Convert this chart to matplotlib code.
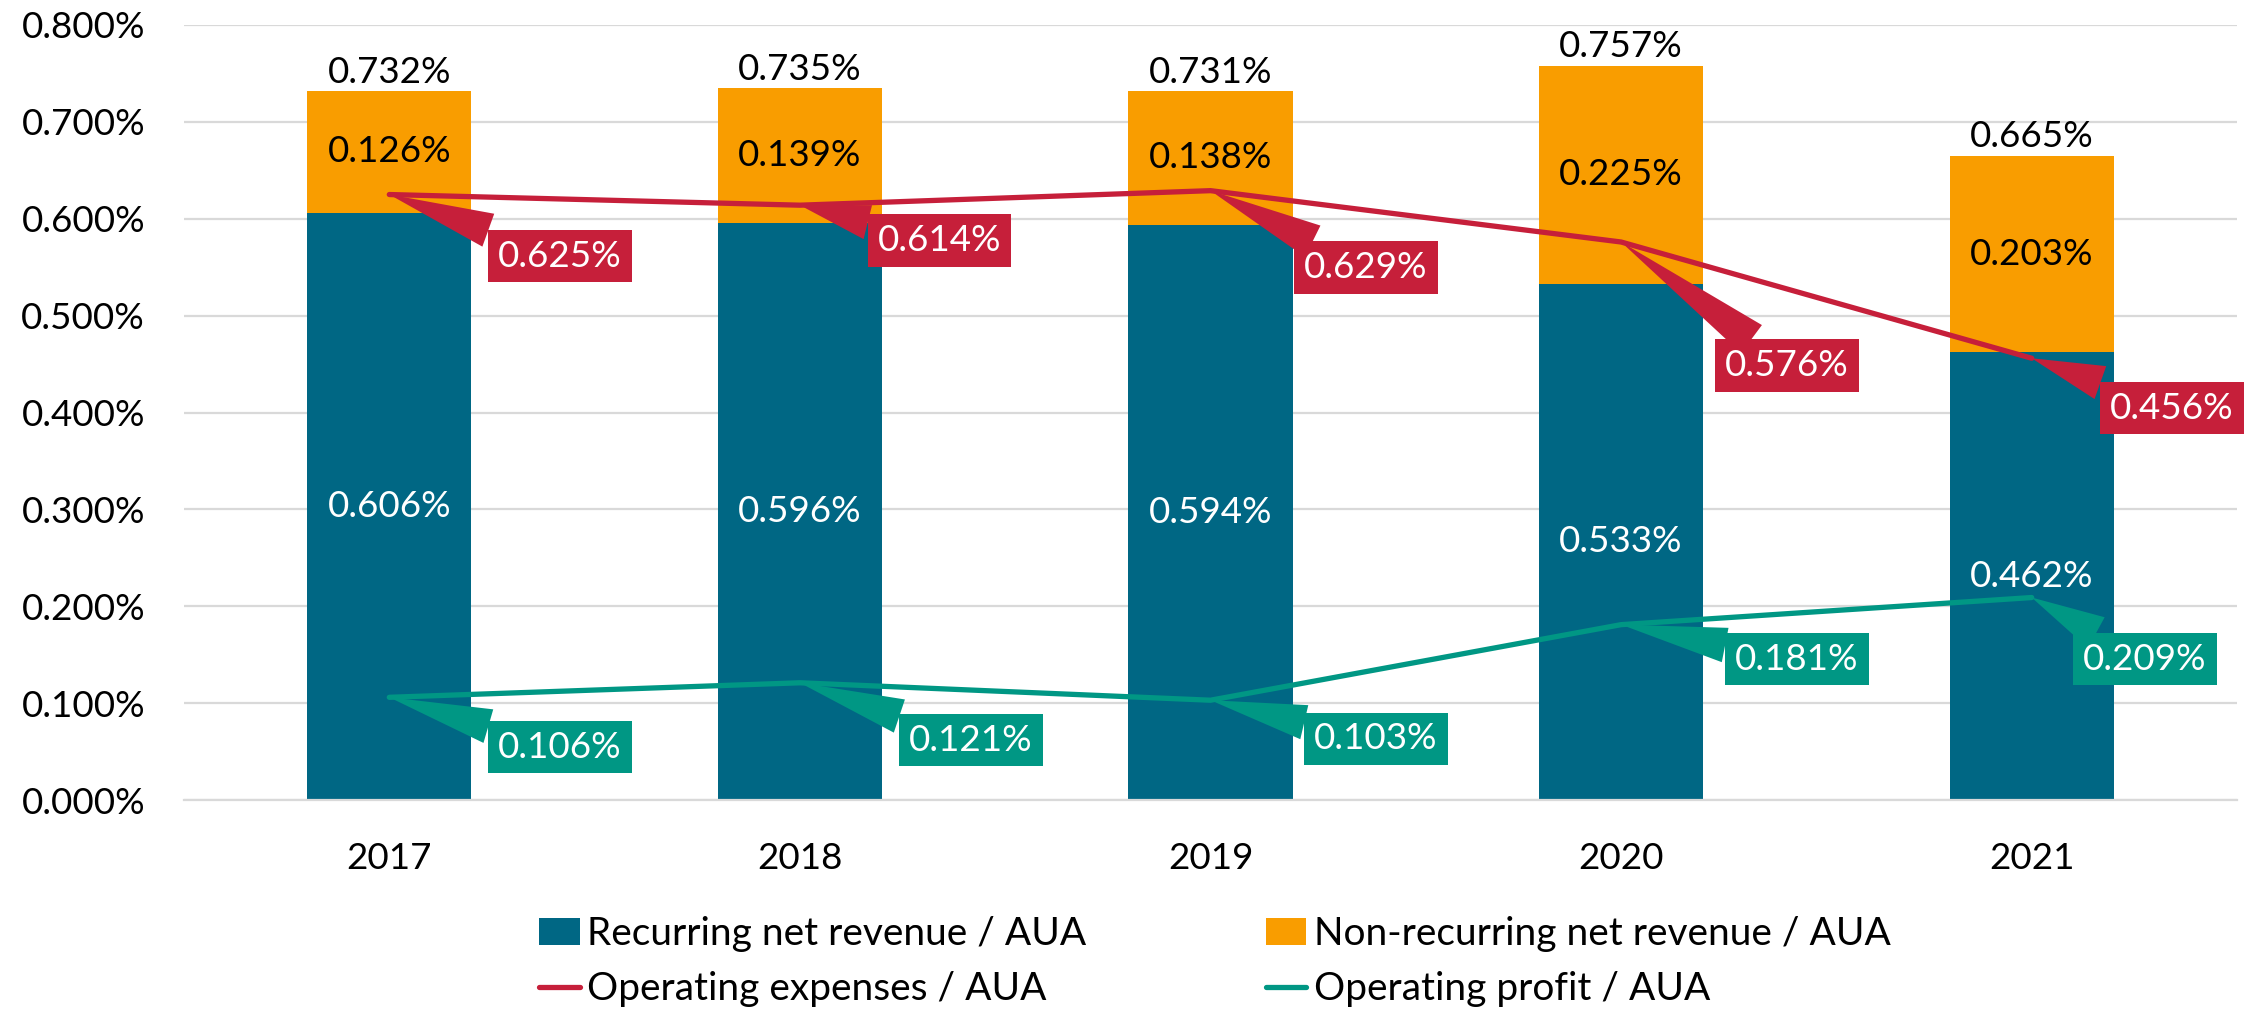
import matplotlib
matplotlib.use("Agg")
import matplotlib.pyplot as plt
from matplotlib.ticker import FixedLocator

# ---- data ----
years = ["2017", "2018", "2019", "2020", "2021"]
recurring = [0.606, 0.596, 0.594, 0.533, 0.462]
non_recurring = [0.126, 0.139, 0.138, 0.225, 0.203]
totals = [0.732, 0.735, 0.731, 0.757, 0.665]
opex = [0.625, 0.614, 0.629, 0.576, 0.456]
profit = [0.106, 0.121, 0.103, 0.181, 0.209]
y_ticks = [0.0, 0.1, 0.2, 0.3, 0.4, 0.5, 0.6, 0.7, 0.8]

# callout box centres (x in category units, y in % units)
opex_box_x = [0.416, 1.340, 2.379, 3.404, 4.342]
opex_box_y = [0.5615, 0.578, 0.5495, 0.4485, 0.4046]
profit_box_x = [0.416, 1.417, 2.403, 3.428, 4.276]
profit_box_y = [0.0547, 0.0619, 0.063, 0.1455, 0.1455]

# ---- style ----
BLUE = "#006784"
ORANGE = "#F99D00"
RED = "#C61F3A"
TEAL = "#009784"
GRID = "#D9D9D9"
FS = 26.5

plt.rcParams["font.family"] = ["Lato", "DejaVu Sans"]

fig = plt.figure(figsize=(22.52, 10.14), dpi=100)
ax = fig.add_axes([184 / 2252, 1 - 800 / 1014, (2237 - 184) / 2252, (800 - 25) / 1014])

x = list(range(len(years)))
b1 = ax.bar(x, recurring, width=0.4, color=BLUE, zorder=2, label="Recurring net revenue / AUA")
b2 = ax.bar(x, non_recurring, width=0.4, bottom=recurring, color=ORANGE, zorder=2,
            label="Non-recurring net revenue / AUA")
l1, = ax.plot(x, opex, color=RED, lw=3.8, zorder=3, solid_joinstyle="round",
              solid_capstyle="round", label="Operating expenses / AUA")
l2, = ax.plot(x, profit, color=TEAL, lw=3.8, zorder=3, solid_joinstyle="round",
              solid_capstyle="round", label="Operating profit / AUA")

# segment labels
for i in x:
    ax.text(i, recurring[i] / 2, f"{recurring[i]:.3f}%", ha="center", va="center",
            color="white", fontsize=FS, zorder=4)
    ax.text(i, recurring[i] + non_recurring[i] / 2, f"{non_recurring[i]:.3f}%", ha="center",
            va="center", color="black", fontsize=FS, zorder=4)
    ax.annotate(f"{totals[i]:.3f}%", xy=(i, recurring[i] + non_recurring[i]),
                xytext=(0, 6), textcoords="offset points", ha="center", va="baseline",
                color="black", fontsize=FS, zorder=4)

# callouts
def callout(i, val, bx, by, col):
    ax.annotate(f"{val:.3f}%", xy=(i, val), xytext=(bx, by), textcoords="data",
                ha="center", va="center", color="white", fontsize=FS, zorder=6,
                bbox=dict(boxstyle="square,pad=0.27", fc=col, ec="none"),
                arrowprops=dict(arrowstyle="wedge,tail_width=0.95,shrink_factor=0.5",
                                fc=col, ec="none", shrinkA=0, shrinkB=0,
                                connectionstyle="arc3,rad=0"))

for i in x:
    callout(i, opex[i], opex_box_x[i], opex_box_y[i], RED)
    callout(i, profit[i], profit_box_x[i], profit_box_y[i], TEAL)

# axes styling
ax.set_xlim(-0.5, len(years) - 0.5)
ax.set_ylim(0, 0.8)
ax.yaxis.set_major_locator(FixedLocator(y_ticks))
ax.set_yticklabels([f"{v:.3f}%" for v in y_ticks])
ax.set_xticks(x)
ax.set_xticklabels(years)
ax.tick_params(axis="both", length=0, labelsize=FS, colors="black")
ax.tick_params(axis="y", pad=28)
ax.tick_params(axis="x", pad=30)
ax.yaxis.grid(True, color=GRID, lw=1.6, zorder=0)
ax.set_axisbelow(True)
for s in ["top", "right", "left"]:
    ax.spines[s].set_visible(False)
ax.spines["bottom"].set_color(GRID)
ax.spines["bottom"].set_linewidth(1.6)

fig.legend([b1, l1, b2, l2],
           ["Recurring net revenue / AUA", "Operating expenses / AUA",
            "Non-recurring net revenue / AUA", "Operating profit / AUA"],
           ncol=2, loc="center", bbox_to_anchor=(1215 / 2252, 1 - 961.5 / 1014),
           frameon=False, fontsize=28, handlelength=1.05, handleheight=0.7,
           handletextpad=0.2, columnspacing=4.6, labelspacing=0.5, borderpad=0)

fig.savefig("out.png", dpi=100)
